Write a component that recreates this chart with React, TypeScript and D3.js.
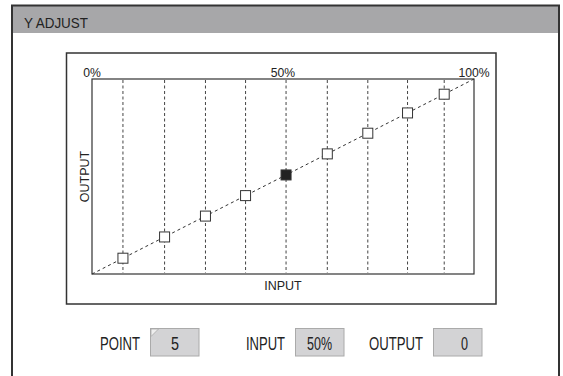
import React from "react";
import * as d3 from "d3";

const inputs = [8.1, 19.0, 29.7, 40.2, 50.8, 61.6, 72.2, 82.6, 92.2];
const outputs = [8.1, 19.0, 29.7, 40.2, 50.8, 61.6, 72.2, 82.6, 92.2];
const activeIndex = 4;
const tickValues = [0, 50, 100];
const tickLabels = ["0%", "50%", "100%"];
const fieldLabels = ["POINT", "INPUT", "OUTPUT"];
const fieldValues = ["5", "50%", "0"];

const FONT = "'Liberation Sans', Arial, sans-serif";

export default function App() {
  const W = 563, H = 376;
  const plot = { x0: 92, x1: 474, y0: 79, y1: 274 };
  const x = d3.scaleLinear().domain([0, 100]).range([plot.x0, plot.x1]);
  const y = d3.scaleLinear().domain([0, 100]).range([plot.y1, plot.y0]);
  const diag = d3.line<number>().x((d) => x(d)).y((d) => y(d))([0, 100]) || "";

  const fields = [
    { lx: 100, lw: 40, bx: 150.5, vx: 175, vw: 8 },
    { lx: 246, lw: 39, bx: 295.5, vx: 319.5, vw: 25 },
    { lx: 369, lw: 54, bx: 433.5, vx: 464.5, vw: 7 },
  ];

  return (
    <svg
      width={W}
      height={H}
      style={{ position: "absolute", left: 0, top: 0, display: "block" }}
      fontFamily={FONT}
    >
      <rect x={0} y={0} width={W} height={H} fill="#fff" />
      {/* outer panel */}
      <rect x={12} y={6} width={547} height={27} fill="#a7a7a9" />
      <rect x={12} y={5.5} width={547} height={380} fill="none" stroke="#333" strokeWidth={2} />
      <text x={24} y={27.5} fontSize={15.5} fill="#222" textLength={64} lengthAdjust="spacingAndGlyphs">
        Y ADJUST
      </text>

      {/* inner box */}
      <rect x={66.5} y={53} width={429.5} height={251} fill="none" stroke="#333" strokeWidth={1.5} />

      {/* plot */}
      <rect x={plot.x0} y={plot.y0} width={plot.x1 - plot.x0} height={plot.y1 - plot.y0} fill="#fff" stroke="#333" strokeWidth={1.2} />
      {inputs.map((v, i) => (
        <line key={"v" + i} x1={x(v)} x2={x(v)} y1={plot.y0 + 1} y2={plot.y1 - 1} stroke="#444" strokeWidth={1} strokeDasharray="3,2.5" />
      ))}
      <path d={diag} stroke="#333" strokeWidth={1} strokeDasharray="3,3" fill="none" />
      {inputs.map((v, i) => (
        <rect
          key={"p" + i}
          x={x(v) - 5}
          y={y(outputs[i]) - 5}
          width={10}
          height={10}
          fill={i === activeIndex ? "#222" : "#fff"}
          stroke="#333"
          strokeWidth={1}
        />
      ))}
      {tickValues.map((v, i) => (
        <text key={"t" + i} x={x(v)} y={77} fontSize={12.2} textAnchor="middle" fill="#222">
          {tickLabels[i]}
        </text>
      ))}
      <text x={(plot.x0 + plot.x1) / 2} y={289.5} fontSize={12.5} textAnchor="middle" fill="#222">
        INPUT
      </text>
      <text
        transform={`translate(${88.5},${(plot.y0 + plot.y1) / 2}) rotate(-90)`}
        fontSize={12.5}
        textAnchor="middle"
        fill="#222"
      >
        OUTPUT
      </text>

      {/* bottom fields */}
      {fields.map((f, i) => (
        <g key={"f" + i}>
          <text x={f.lx} y={350} fontSize={19} fill="#222" textLength={f.lw} lengthAdjust="spacingAndGlyphs">
            {fieldLabels[i]}
          </text>
          <rect x={f.bx} y={328.5} width={48.5} height={27.5} fill="#d3d3d5" stroke="#aaa" strokeWidth={1} />
          {i === 0 && (
            <path d={`M${f.bx + 0.5},${329} L${f.bx + 8},${329} L${f.bx + 0.5},${336.5} Z`} fill="#eee" stroke="#aaa" strokeWidth={0.8} />
          )}
          <text x={f.vx} y={350} fontSize={19} fill="#222" textAnchor="middle" textLength={f.vw} lengthAdjust="spacingAndGlyphs">
            {fieldValues[i]}
          </text>
        </g>
      ))}
    </svg>
  );
}
